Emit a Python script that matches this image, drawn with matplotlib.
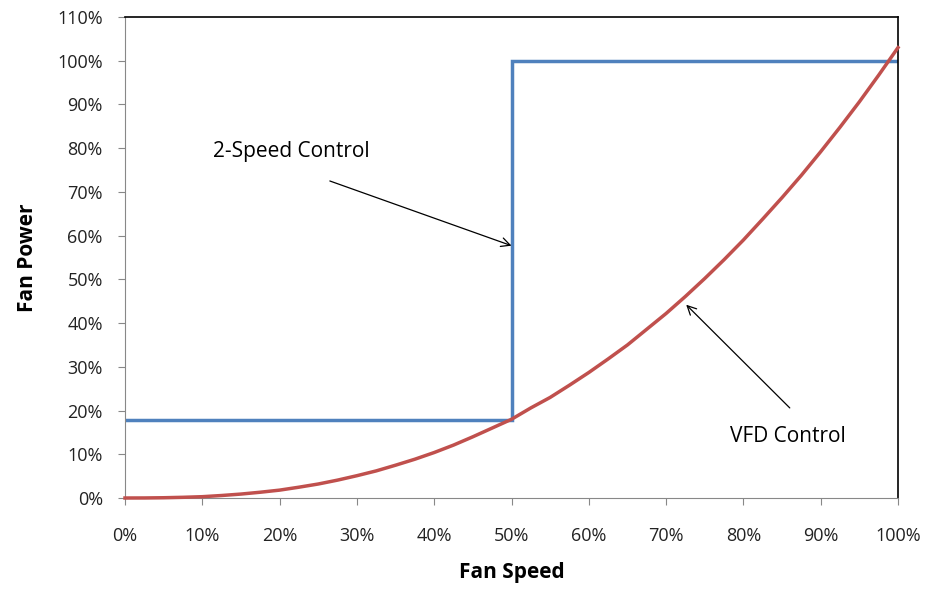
import matplotlib
matplotlib.use('Agg')
import matplotlib.pyplot as plt
from matplotlib.ticker import FuncFormatter

# fan speed (%) and power (%)
vfd_speed = [0, 2.5, 5, 7.5, 10, 12.5, 15, 17.5, 20, 22.5, 25, 27.5, 30, 32.5, 35, 37.5, 40,
             42.5, 45, 47.5, 50, 52.5, 55, 57.5, 60, 62.5, 65, 67.5, 70, 72.5, 75, 77.5, 80,
             82.5, 85, 87.5, 90, 92.5, 95, 97.5, 100]
vfd_power = [0, 0.01, 0.06, 0.16, 0.3, 0.57, 0.9, 1.32, 1.8, 2.47, 3.2, 4.09, 5.1, 6.2, 7.5,
             8.87, 10.4, 12.1, 14.0, 16.0, 18.0, 20.6, 23.0, 25.8, 28.7, 31.8, 35.0, 38.6,
             42.2, 46.1, 50.2, 54.5, 59.0, 63.8, 68.7, 73.8, 79.2, 84.8, 90.6, 96.7, 103.0]

two_speed = [0, 50, 50, 100]
two_power = [17.8, 17.8, 100, 100]

x_ticks = list(range(0, 101, 10))
y_ticks = list(range(0, 111, 10))

plt.rcParams['font.family'] = ['Open Sans', 'DejaVu Sans']

fig = plt.figure(figsize=(9.32, 5.94), dpi=100)
ax = fig.add_axes([125/932, 1-498/594, (898-125)/932, (498-17)/594])

ax.plot(two_speed, two_power, color='#4f81bd', linewidth=2.5, solid_joinstyle='miter', zorder=2)
ax.plot(vfd_speed, vfd_power, color='#c0504d', linewidth=2.5, zorder=3, clip_on=False)

ax.set_xlim(0, 100)
ax.set_ylim(0, 110)
ax.set_xticks(x_ticks)
ax.set_yticks(y_ticks)
pct = FuncFormatter(lambda v, p: '%d%%' % v)
ax.xaxis.set_major_formatter(pct)
ax.yaxis.set_major_formatter(pct)
ax.tick_params(direction='out', length=5, color='#888888', labelsize=13, labelcolor='#222222')
ax.tick_params(axis='x', pad=16)
ax.tick_params(axis='y', pad=11)

for s in ['left', 'bottom']:
    ax.spines[s].set_color('#888888')
for s in ['top', 'right']:
    ax.spines[s].set_color('black')
    ax.spines[s].set_linewidth(1.2)

ax.set_xlabel('Fan Speed', fontsize=15, fontweight='bold', labelpad=12)
ax.set_ylabel('Fan Power', fontsize=15, fontweight='bold', labelpad=14)

ax.text(11.4, 79.2, '2-Speed Control', fontsize=15, ha='left', va='center')
ax.annotate('', xy=(50, 57.7), xytext=(26.5, 72.5),
            arrowprops=dict(arrowstyle='->', color='black', lw=0.9, shrinkA=0, shrinkB=0,
                            mutation_scale=16))
ax.text(78.3, 14.0, 'VFD Control', fontsize=15, ha='left', va='center')
ax.annotate('', xy=(72.6, 44.2), xytext=(86.0, 20.6),
            arrowprops=dict(arrowstyle='->', color='black', lw=0.9, shrinkA=0, shrinkB=0,
                            mutation_scale=16))

fig.savefig('out.png', dpi=100)
